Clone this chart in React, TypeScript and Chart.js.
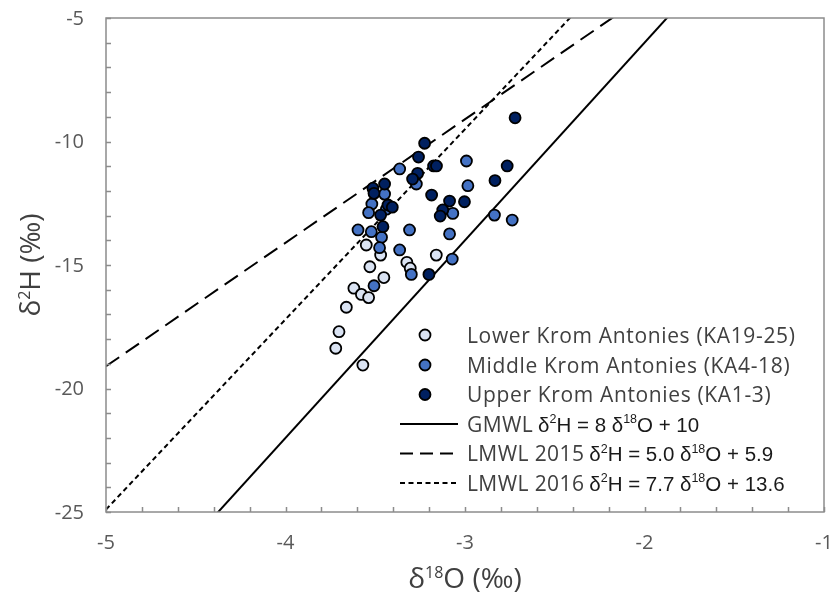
import React, { useEffect, useRef } from 'react';
import { Chart, registerables } from 'chart.js';

Chart.register(...registerables);

// δ18O (x) and δ2H (y) per stratigraphic unit, ‰
const lowerO = [-3.55, -3.47, -3.16, -3.53, -3.324, -3.305, -3.452, -3.619, -3.577, -3.537, -3.661, -3.702, -3.72, -3.569];
const lowerH = [-14.19, -14.6, -14.6, -15.07, -14.89, -15.13, -15.51, -15.94, -16.19, -16.32, -16.71, -17.7, -18.37, -19.05];

const middleO = [-2.992, -3.364, -3.271, -2.984, -3.519, -3.537, -3.438, -3.068, -2.836, -2.737, -3.596, -3.522, -3.309, -3.086, -3.465, -3.476, -3.364, -3.071, -3.299, -3.507, -3.448];
const middleH = [-10.79, -11.11, -11.72, -11.79, -12.53, -12.88, -12.74, -12.91, -12.98, -13.18, -13.58, -13.65, -13.58, -13.74, -13.88, -14.3, -14.39, -14.76, -15.38, -15.84, -12.13];

const upperO = [-2.721, -3.225, -3.259, -3.175, -3.159, -2.765, -3.264, -3.292, -3.448, -2.833, -3.513, -3.507, -3.186, -3.086, -3.003, -3.429, -3.405, -3.124, -3.47, -3.138, -3.457, -3.201];
const upperH = [-9.04, -10.07, -10.63, -10.99, -10.99, -10.99, -11.29, -11.52, -11.72, -11.58, -11.89, -12.1, -12.17, -12.41, -12.44, -12.57, -12.66, -12.77, -12.98, -13.02, -13.45, -15.38];

const seriesNames = ['Lower Krom Antonies (KA19-25)', 'Middle Krom Antonies (KA4-18)', 'Upper Krom Antonies (KA1-3)'];
const seriesColors = ['#dae3f3', '#4472c4', '#002060'];

// Meteoric water lines: δ2H = slope · δ18O + intercept
const lineNames = ['GMWL', 'LMWL 2015', 'LMWL 2016'];
const lineSlopes = [8, 5.0, 7.7];
const lineIntercepts = [10, 5.9, 13.6];
const lineSlopeText = ['8', '5.0', '7.7'];
const lineInterceptText = ['10', '5.9', '13.6'];
const lineDashes: number[][] = [[], [16, 8], [5, 3.5]];
const legendDashes: number[][] = [[], [13, 7], [5, 3.5]];

const xTicks = [-5, -4, -3, -2, -1];
const yTicks = [-25, -20, -15, -10, -5];
const xMin = -5;
const xMax = -1;
const yMin = -25;
const yMax = -5;

const TEXT = '#404040';
const TICK_TEXT = '#595959';
const AXIS = '#8c8c8c';
const SANS = '"Open Sans", sans-serif';
const ARIAL = '"Liberation Sans", Arial, sans-serif';

const toPoints = (xs: number[], ys: number[]) => xs.map((x, i) => ({ x, y: ys[i] }));

type Run = [string, boolean];

// widths of each piece of a mixed normal / superscript string
function measureRuns(ctx: CanvasRenderingContext2D, runs: Run[], big: string, small: string) {
  return runs.map(([t, sup]) => {
    ctx.font = sup ? small : big;
    return ctx.measureText(t).width;
  });
}

// draws the pieces left to right starting at x, returns the end x
function drawRuns(ctx: CanvasRenderingContext2D, runs: Run[], x: number, y: number, big: string, small: string, rise: number) {
  const widths = measureRuns(ctx, runs, big, small);
  runs.forEach(([t, sup], i) => {
    ctx.font = sup ? small : big;
    ctx.fillText(t, x, sup ? y - rise : y);
    x += widths[i];
  });
  return x;
}

function drawRunsCentered(ctx: CanvasRenderingContext2D, runs: Run[], cx: number, y: number, big: string, small: string, rise: number) {
  const total = measureRuns(ctx, runs, big, small).reduce((s, w) => s + w, 0);
  drawRuns(ctx, runs, cx - total / 2, y, big, small, rise);
}

const decorations = {
  id: 'decorations',
  afterDatasetsDraw(chart: any) {
    const { ctx, chartArea: a, scales } = chart;
    const xs = scales.x;
    const ys = scales.y;
    ctx.save();
    ctx.strokeStyle = AXIS;
    ctx.lineWidth = 1.5;
    // inward tick marks
    ctx.beginPath();
    for (let v = xMin; v <= xMax + 1e-9; v += 0.2) {
      const px = Math.round(xs.getPixelForValue(v)) + 0.5;
      ctx.moveTo(px, a.bottom);
      ctx.lineTo(px, a.bottom - 5);
    }
    for (let v = yMin; v <= yMax + 1e-9; v += 1) {
      const py = Math.round(ys.getPixelForValue(v)) + 0.5;
      ctx.moveTo(a.left, py);
      ctx.lineTo(a.left + 5, py);
    }
    ctx.stroke();
    // plot frame
    ctx.strokeRect(a.left, a.top, a.right - a.left, a.bottom - a.top);

    // tick labels
    ctx.fillStyle = TICK_TEXT;
    ctx.font = `20px ${SANS}`;
    ctx.textBaseline = 'middle';
    ctx.textAlign = 'center';
    xTicks.forEach((v) => ctx.fillText(String(v), xs.getPixelForValue(v), 543));
    ctx.textAlign = 'right';
    yTicks.forEach((v) => ctx.fillText(String(v), 84, ys.getPixelForValue(v) + 1));
    ctx.restore();
  },
  afterDraw(chart: any) {
    const { ctx, chartArea: a } = chart;
    ctx.save();
    (ctx as any).letterSpacing = '0px';
    // axis titles
    ctx.fillStyle = TEXT;
    ctx.textBaseline = 'middle';
    ctx.textAlign = 'left';
    const tBig = `28px ${SANS}`;
    const tSmall = `16px ${SANS}`;
    const xTitle: Run[] = [['δ', false], ['18', true], ['O (‰)', false]];
    const yTitle: Run[] = [['δ', false], ['2', true], ['H (‰)', false]];
    drawRunsCentered(ctx, xTitle, (a.left + a.right) / 2, 580, tBig, tSmall, 7);
    ctx.translate(32, (a.top + a.bottom) / 2);
    ctx.rotate(-Math.PI / 2);
    drawRunsCentered(ctx, yTitle, 0, 0, tBig, tSmall, 7);
    ctx.restore();

    // legend
    ctx.save();
    const markerX = 425;
    const textX = 467;
    const rowY = [337, 367, 396.5, 426, 455.5, 485];
    ctx.textBaseline = 'middle';
    ctx.textAlign = 'left';
    seriesNames.forEach((name, i) => {
      const y = rowY[i];
      ctx.beginPath();
      ctx.arc(markerX, y - 2, 5.5, 0, Math.PI * 2);
      ctx.fillStyle = seriesColors[i];
      ctx.fill();
      ctx.lineWidth = 1.8;
      ctx.strokeStyle = '#000';
      ctx.stroke();
      ctx.fillStyle = TEXT;
      ctx.font = `21px ${SANS}`;
      (ctx as any).letterSpacing = '0.65px';
      ctx.fillText(name, textX, y);
      (ctx as any).letterSpacing = '0px';
    });
    lineNames.forEach((name, i) => {
      const y = rowY[3 + i];
      ctx.beginPath();
      ctx.setLineDash(legendDashes[i]);
      ctx.lineWidth = 2;
      ctx.strokeStyle = '#000';
      ctx.moveTo(400, y - 2);
      ctx.lineTo(458, y - 2);
      ctx.stroke();
      ctx.setLineDash([]);
      ctx.fillStyle = TEXT;
      ctx.font = `21px ${SANS}`;
      (ctx as any).letterSpacing = '0.4px';
      ctx.fillText(name, textX, y);
      const x = textX + ctx.measureText(name).width + 5;
      (ctx as any).letterSpacing = '0px';
      // equation with superscripts
      const parts: Run[] = [
        ['δ', false], ['2', true], [`H = ${lineSlopeText[i]} δ`, false], ['18', true], [`O + ${lineInterceptText[i]}`, false],
      ];
      ctx.fillStyle = '#1a1a1a';
      drawRuns(ctx, parts, x, y, `20.5px ${ARIAL}`, `12.5px ${ARIAL}`, 6);
    });
    ctx.restore();
  },
};

export default function App() {
  const canvasRef = useRef<HTMLCanvasElement | null>(null);

  useEffect(() => {
    if (!canvasRef.current) return;
    const scatterStyle = (i: number) => ({
      backgroundColor: seriesColors[i],
      borderColor: '#000',
      borderWidth: 1.8,
      pointRadius: 5.5,
      pointHoverRadius: 5.5,
      showLine: false,
    });
    const lineData = (i: number) => [
      { x: xMin, y: lineSlopes[i] * xMin + lineIntercepts[i] },
      { x: xMax, y: lineSlopes[i] * xMax + lineIntercepts[i] },
    ];
    const chart = new Chart(canvasRef.current, {
      type: 'scatter',
      data: {
        datasets: [
          { label: seriesNames[2], data: toPoints(upperO, upperH), order: 0, ...scatterStyle(2) },
          { label: seriesNames[1], data: toPoints(middleO, middleH), order: 1, ...scatterStyle(1) },
          { label: seriesNames[0], data: toPoints(lowerO, lowerH), order: 2, ...scatterStyle(0) },
          ...lineNames.map((name, i) => ({
            label: name,
            data: lineData(i),
            showLine: true,
            borderColor: '#000',
            borderWidth: 2,
            borderDash: lineDashes[i],
            pointRadius: 0,
            order: 3 + i,
          })),
        ],
      },
      options: {
        animation: false,
        responsive: false,
        layout: { padding: { top: 18, right: 11, left: 0, bottom: 0 } },
        plugins: { legend: { display: false }, tooltip: { enabled: false } },
        scales: {
          x: {
            type: 'linear',
            min: xMin,
            max: xMax,
            afterFit: (s: any) => { s.height = 85; },
            grid: { display: false, drawTicks: false },
            border: { display: false },
            ticks: { display: false, stepSize: 1 },
          },
          y: {
            type: 'linear',
            min: yMin,
            max: yMax,
            afterFit: (s: any) => { s.width = 106; },
            grid: { display: false, drawTicks: false },
            border: { display: false },
            ticks: { display: false, stepSize: 5 },
          },
        },
      },
      plugins: [decorations],
    } as any);
    return () => chart.destroy();
  }, []);

  return (
    <div style={{ position: 'absolute', left: 0, top: 0, width: 835, height: 597, background: '#fff' }}>
      <canvas ref={canvasRef} width={835} height={597} />
    </div>
  );
}
